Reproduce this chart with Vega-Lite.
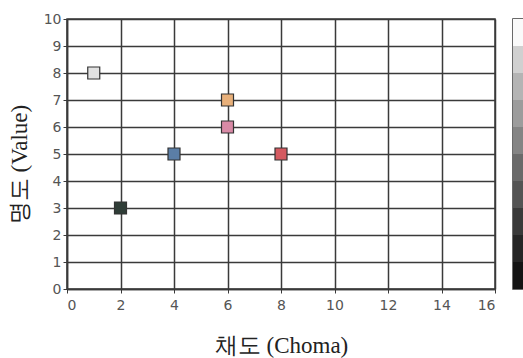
{
  "$schema": "https://vega.github.io/schema/vega-lite/v6.json",
  "padding": {"left": 7, "top": 11, "right": 0, "bottom": 0},
  "background": "white",
  "bounds": "flush",
  "spacing": 18,
  "resolve": {"scale": {"color": "independent"}},
  "config": {
    "view": {"stroke": "#3a3a3a", "strokeWidth": 1.5},
    "axis": {
      "labelFont": "DejaVu Sans",
      "labelFontSize": 14,
      "labelColor": "#555555",
      "titleFont": "Liberation Serif",
      "titleFontSize": 23,
      "titleFontWeight": "normal",
      "titleColor": "#222222",
      "gridColor": "#3a3a3a",
      "gridWidth": 1.5,
      "gridOpacity": 1,
      "domainColor": "#3a3a3a",
      "domainWidth": 1.5,
      "tickColor": "#3a3a3a",
      "tickSize": 4
    }
  },
  "hconcat": [
    {
      "width": 428,
      "height": 270,
      "data": {
        "values": [
          {"chroma": 1, "value": 8, "name": "white"},
          {"chroma": 2, "value": 3, "name": "dark"},
          {"chroma": 4, "value": 5, "name": "blue"},
          {"chroma": 6, "value": 7, "name": "orange"},
          {"chroma": 6, "value": 6, "name": "pink"},
          {"chroma": 8, "value": 5, "name": "red"}
        ]
      },
      "mark": {"type": "point", "shape": "square", "filled": true, "size": 144, "stroke": "#333333", "strokeWidth": 1.2, "opacity": 1},
      "encoding": {
        "x": {
          "field": "chroma", "type": "quantitative",
          "scale": {"domain": [0, 16], "nice": false},
          "axis": {"values": [0, 2, 4, 6, 8, 10, 12, 14, 16], "title": "채도 (Choma)", "labelPadding": 5, "titlePadding": 22}
        },
        "y": {
          "field": "value", "type": "quantitative",
          "scale": {"domain": [0, 10], "nice": false},
          "axis": {"values": [0, 1, 2, 3, 4, 5, 6, 7, 8, 9, 10], "title": "명도 (Value)", "labelPadding": 2, "titlePadding": 12, "titleY": 145}
        },
        "color": {
          "field": "name", "type": "nominal",
          "scale": {
            "domain": ["white", "dark", "blue", "orange", "pink", "red"],
            "range": ["#e2e2e2", "#2f3d37", "#5b7ea6", "#e8b07a", "#d98aa6", "#d45a60"]
          },
          "legend": null
        }
      }
    },
    {
      "width": 14,
      "height": 270,
      "data": {
        "values": [
          {"lo": 0, "hi": 1, "band": "b0"},
          {"lo": 1, "hi": 2, "band": "b1"},
          {"lo": 2, "hi": 3, "band": "b2"},
          {"lo": 3, "hi": 4, "band": "b3"},
          {"lo": 4, "hi": 5, "band": "b4"},
          {"lo": 5, "hi": 6, "band": "b5"},
          {"lo": 6, "hi": 7, "band": "b6"},
          {"lo": 7, "hi": 8, "band": "b7"},
          {"lo": 8, "hi": 9, "band": "b8"},
          {"lo": 9, "hi": 10, "band": "b9"}
        ]
      },
      "mark": {"type": "rect"},
      "encoding": {
        "x": {"datum": 0, "type": "quantitative", "scale": {"domain": [0, 1], "nice": false}, "axis": null},
        "x2": {"datum": 1},
        "y": {"field": "lo", "type": "quantitative", "scale": {"domain": [0, 10], "nice": false}, "axis": null},
        "y2": {"field": "hi"},
        "color": {
          "field": "band", "type": "nominal",
          "scale": {
            "domain": ["b0", "b1", "b2", "b3", "b4", "b5", "b6", "b7", "b8", "b9"],
            "range": ["#141414", "#262626", "#3a3a3a", "#545454", "#6a6a6a", "#848484", "#9c9c9c", "#b4b4b4", "#d0d0d0", "#fafafa"]
          },
          "legend": null
        }
      }
    }
  ]
}
